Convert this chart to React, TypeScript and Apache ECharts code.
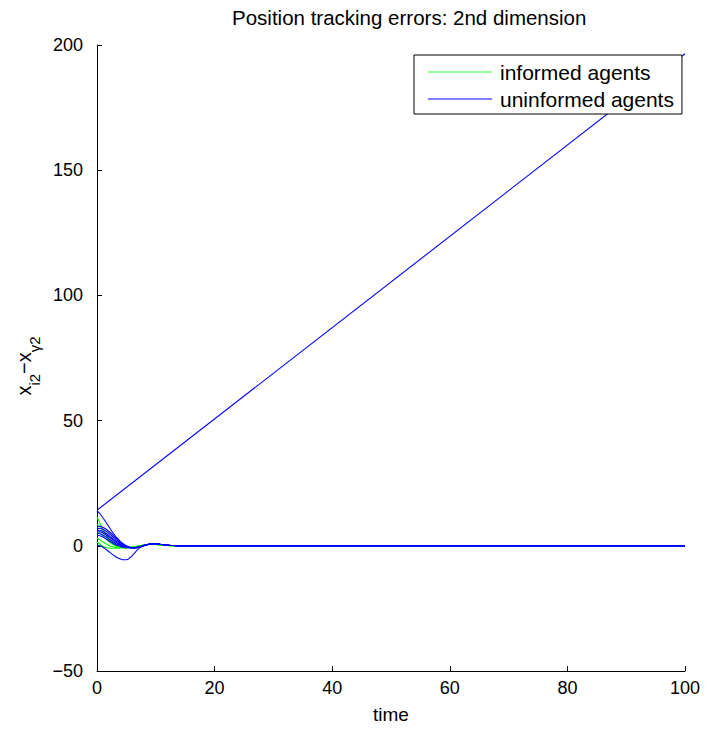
import React, { useEffect, useRef } from "react";
import * as echarts from "echarts";

// Sample times (shared by all transient trajectories)
const TIME = [0, 0.5, 1, 1.5, 2, 2.5, 3, 3.5, 4, 4.5, 5, 5.5, 6, 6.5, 7, 7.5, 8, 8.5, 9, 9.5, 10, 11, 12, 13, 14, 16, 20, 100];

// Tracking errors of informed agents
const INFORMED_1 = [11.5, 9.0, 6.5, 4.3, 2.6, 1.3, 0.4, -0.2, -0.6, -0.8, -0.8, -0.7, -0.6, -0.4, -0.2, 0.1, 0.3, 0.5, 0.6, 0.6, 0.5, 0.3, 0.1, 0, 0, 0, 0, 0];
const INFORMED_2 = [8.5, 7.8, 6.2, 4.5, 2.9, 1.6, 0.6, -0.1, -0.5, -0.7, -0.8, -0.7, -0.6, -0.4, -0.2, 0.1, 0.3, 0.5, 0.6, 0.6, 0.5, 0.3, 0.1, 0, 0, 0, 0, 0];
const INFORMED_3 = [5.5, 5.0, 4.0, 2.8, 1.7, 0.8, 0.1, -0.4, -0.7, -0.8, -0.8, -0.7, -0.6, -0.4, -0.2, 0.1, 0.3, 0.5, 0.6, 0.6, 0.5, 0.3, 0.1, 0, 0, 0, 0, 0];
const INFORMED_4 = [3.0, 2.4, 1.6, 0.8, 0.2, -0.3, -0.6, -0.8, -0.8, -0.8, -0.7, -0.6, -0.5, -0.3, -0.1, 0.1, 0.3, 0.5, 0.6, 0.6, 0.5, 0.3, 0.1, 0, 0, 0, 0, 0];
const INFORMED_5 = [1.5, 0.6, -0.2, -0.7, -0.9, -1.0, -1.0, -0.9, -0.8, -0.7, -0.6, -0.5, -0.4, -0.3, -0.1, 0.1, 0.3, 0.5, 0.6, 0.6, 0.5, 0.3, 0.1, 0, 0, 0, 0, 0];

// Tracking errors of uninformed agents
const UNINFORMED_1 = [14.0, 12.8, 11.2, 9.5, 7.7, 5.9, 4.3, 2.9, 1.6, 0.6, -0.2, -0.7, -0.9, -0.9, -0.7, -0.4, 0, 0.4, 0.7, 0.8, 0.8, 0.5, 0.2, 0.1, 0, 0, 0, 0];
const UNINFORMED_2 = [7.5, 7.8, 7.4, 6.7, 5.8, 4.8, 3.7, 2.6, 1.6, 0.7, 0, -0.5, -0.8, -0.8, -0.6, -0.3, 0, 0.4, 0.7, 0.8, 0.8, 0.5, 0.2, 0.1, 0, 0, 0, 0];
const UNINFORMED_3 = [6.8, 7.0, 6.6, 5.9, 5.0, 4.0, 3.0, 2.0, 1.1, 0.4, -0.2, -0.6, -0.8, -0.8, -0.6, -0.3, 0.1, 0.4, 0.7, 0.8, 0.8, 0.5, 0.2, 0.1, 0, 0, 0, 0];
const UNINFORMED_4 = [6.2, 6.2, 5.7, 5.0, 4.1, 3.2, 2.3, 1.4, 0.7, 0.1, -0.4, -0.7, -0.8, -0.8, -0.6, -0.3, 0.1, 0.4, 0.7, 0.8, 0.8, 0.5, 0.2, 0.1, 0, 0, 0, 0];
const UNINFORMED_5 = [5.6, 5.6, 5.1, 4.4, 3.6, 2.7, 1.8, 1.0, 0.4, -0.1, -0.5, -0.7, -0.8, -0.8, -0.6, -0.3, 0.1, 0.4, 0.7, 0.8, 0.8, 0.5, 0.2, 0.1, 0, 0, 0, 0];
const UNINFORMED_6 = [5.0, 4.8, 4.3, 3.6, 2.8, 2.0, 1.2, 0.5, 0, -0.4, -0.6, -0.8, -0.8, -0.7, -0.5, -0.2, 0.1, 0.4, 0.7, 0.8, 0.8, 0.5, 0.2, 0.1, 0, 0, 0, 0];
const UNINFORMED_7 = [4.2, 4.0, 3.5, 2.8, 2.0, 1.3, 0.6, 0.1, -0.3, -0.6, -0.8, -0.8, -0.8, -0.7, -0.5, -0.2, 0.1, 0.4, 0.7, 0.8, 0.8, 0.5, 0.2, 0.1, 0, 0, 0, 0];
const UNINFORMED_8 = [0.3, 0, -0.6, -1.4, -2.3, -3.2, -4.1, -4.8, -5.3, -5.6, -5.6, -5.0, -3.9, -2.6, -1.3, -0.4, 0.2, 0.5, 0.7, 0.8, 0.8, 0.5, 0.2, 0.1, 0, 0, 0, 0];

// The one uninformed agent that drifts away
const DRIFT_TIME = [0, 100];
const DRIFT_VALUE = [14.2, 196.5];

const INFORMED = [INFORMED_1, INFORMED_2, INFORMED_3, INFORMED_4, INFORMED_5];
const UNINFORMED = [UNINFORMED_1, UNINFORMED_2, UNINFORMED_3, UNINFORMED_4, UNINFORMED_5, UNINFORMED_6, UNINFORMED_7, UNINFORMED_8];

const X_TICKS = [0, 20, 40, 60, 80, 100];
const Y_TICKS = [-50, 0, 50, 100, 150, 200];

const GREEN = "#00ff00";
const BLUE = "#0000ff";
const FONT = "'Liberation Sans', Arial, Helvetica, sans-serif";

const pairs = (t: number[], v: number[]) => t.map((x, i) => [x, v[i]]);

export default function App() {
  const ref = useRef<HTMLDivElement>(null);

  useEffect(() => {
    if (!ref.current) return;
    const chart = echarts.init(ref.current, undefined, { renderer: "svg" });

    const lineSeries = (name: string, color: string, data: number[][], smooth: boolean) => ({
      type: "line",
      name,
      data,
      symbol: "none",
      smooth: smooth ? 0.35 : false,
      lineStyle: { color, width: 1.1 },
      itemStyle: { color },
      emphasis: { disabled: true },
    });

    const series: any[] = [
      ...INFORMED.map((v) => lineSeries("informed agents", GREEN, pairs(TIME, v), true)),
      ...UNINFORMED.map((v) => lineSeries("uninformed agents", BLUE, pairs(TIME, v), true)),
      lineSeries("uninformed agents", BLUE, pairs(DRIFT_TIME, DRIFT_VALUE), false),
    ];

    chart.setOption({
      animation: false,
      backgroundColor: "#ffffff",
      textStyle: { fontFamily: FONT, color: "#000" },
      title: {
        text: "Position tracking errors: 2nd dimension",
        left: 227,
        top: 2,
        textStyle: { fontFamily: FONT, fontSize: 20.5, fontWeight: "normal", color: "#000" },
      },
      legend: {
        orient: "vertical",
        left: 414,
        top: 55,
        padding: [6, 8, 4, 14],
        icon: "rect",
        itemWidth: 64,
        itemHeight: 1,
        itemGap: 5,
        borderColor: "#000",
        borderWidth: 1,
        backgroundColor: "#fff",
        data: [
          { name: "informed agents", itemStyle: { color: "#33ff33" } },
          { name: "uninformed agents", itemStyle: { color: BLUE } },
        ],
        textStyle: { fontFamily: FONT, fontSize: 21, color: "#000", lineHeight: 22, padding: [0, 0, 0, 3] },
      },
      grid: { left: 97, right: 28, top: 45, bottom: 58, containLabel: false },
      xAxis: {
        type: "value",
        min: X_TICKS[0],
        max: X_TICKS[X_TICKS.length - 1],
        interval: 20,
        name: "time",
        nameLocation: "middle",
        nameGap: 34,
        nameTextStyle: { fontFamily: FONT, fontSize: 19, color: "#000" },
        axisLine: { onZero: false, lineStyle: { color: "#000", width: 1 } },
        axisTick: { inside: true, length: 5, lineStyle: { color: "#000" } },
        axisLabel: { fontFamily: FONT, fontSize: 18, color: "#000", margin: 8 },
        splitLine: { show: false },
      },
      yAxis: {
        type: "value",
        min: Y_TICKS[0],
        max: Y_TICKS[Y_TICKS.length - 1],
        interval: 50,
        name: "{b|x}{s|i2}{b|\u2212x}{e|\u03b32}",
        nameLocation: "middle",
        nameRotate: 90,
        nameGap: 52,
        nameTextStyle: {
          fontFamily: FONT,
          color: "#000",
          rich: {
            b: { fontFamily: FONT, fontSize: 20, color: "#000", lineHeight: 28, verticalAlign: "top" },
            s: { fontFamily: FONT, fontSize: 15, color: "#000", lineHeight: 28, verticalAlign: "bottom", padding: [10, 0, 0, 0] },
            e: { fontFamily: FONT, fontSize: 15, color: "#000", lineHeight: 28, verticalAlign: "bottom", padding: [10, 16, 0, 0] },
          },
        },
        axisLine: { onZero: false, lineStyle: { color: "#000", width: 1 } },
        axisTick: { inside: true, length: 5, lineStyle: { color: "#000" } },
        axisLabel: {
          fontFamily: FONT,
          fontSize: 18,
          color: "#000",
          margin: 14,
          formatter: (v: number) => (v < 0 ? "\u2212" + Math.abs(v) : String(v)),
        },
        splitLine: { show: false },
      },
      series,
    });

    return () => chart.dispose();
  }, []);

  return <div ref={ref} style={{ width: 713, height: 729, marginLeft: -8, marginTop: -8 }} />;
}
